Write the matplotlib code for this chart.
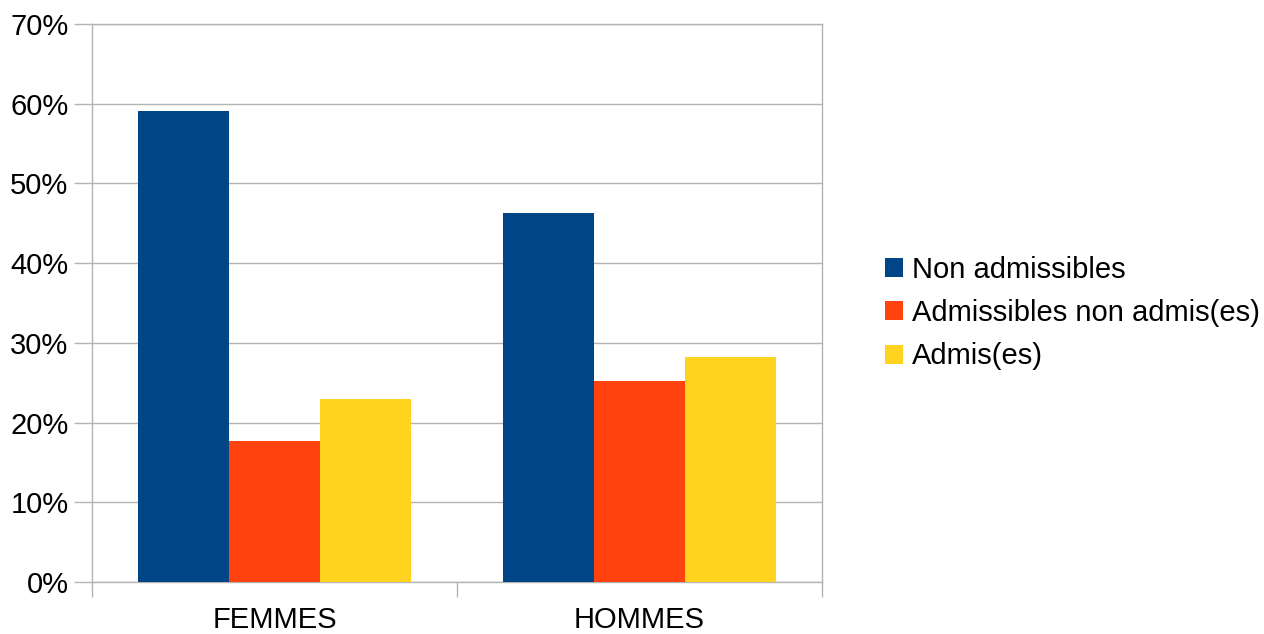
import matplotlib.pyplot as plt
import numpy as np

plt.rcParams['font.family'] = ['Liberation Sans', 'DejaVu Sans']

categories = ["FEMMES", "HOMMES"]
series = ["Non admissibles", "Admissibles non admis(es)", "Admis(es)"]
non_admissibles = [59.1, 46.3]
admissibles_non_admis = [17.7, 25.2]
admis = [23.0, 28.2]
couleurs = ['#004586', '#ff420e', '#ffd320']

fig = plt.figure(figsize=(12.64, 6.34), dpi=100)
ax = fig.add_axes([0.0728, 0.082, 0.5775, 0.880])

x = np.arange(len(categories))
largeur = 0.25
for i, (vals, nom) in enumerate(zip([non_admissibles, admissibles_non_admis, admis], series)):
    ax.bar(x + (i - 1) * largeur, vals, largeur, color=couleurs[i], label=nom, zorder=3)

ax.set_xlim(-0.5, len(categories) - 0.5)
ax.set_ylim(0, 70)
ax.set_yticks(range(0, 71, 10))
ax.set_yticklabels([f"{v}%" for v in range(0, 71, 10)], fontsize=21)
ax.set_xticks(x)
ax.set_xticklabels(categories, fontsize=21)
ax.tick_params(axis='x', length=0, pad=17)
ax.set_xticks([-0.5, 0.5, 1.5], minor=True)
ax.tick_params(axis='x', which='minor', length=11, color='#b3b3b3', width=1)
ax.tick_params(axis='y', length=13, color='#b3b3b3', width=1, pad=4)
ax.yaxis.grid(True, color='#b3b3b3', linewidth=1, zorder=0)
for s in ax.spines.values():
    s.set_color('#b3b3b3')
    s.set_linewidth(1)

fig.legend(loc='center left', bbox_to_anchor=(0.6885, 0.506), frameon=False,
           fontsize=21, handlelength=0.62, handleheight=0.62, handletextpad=0.3,
           labelspacing=0.52, borderpad=0)

fig.savefig("out.png", dpi=100)
